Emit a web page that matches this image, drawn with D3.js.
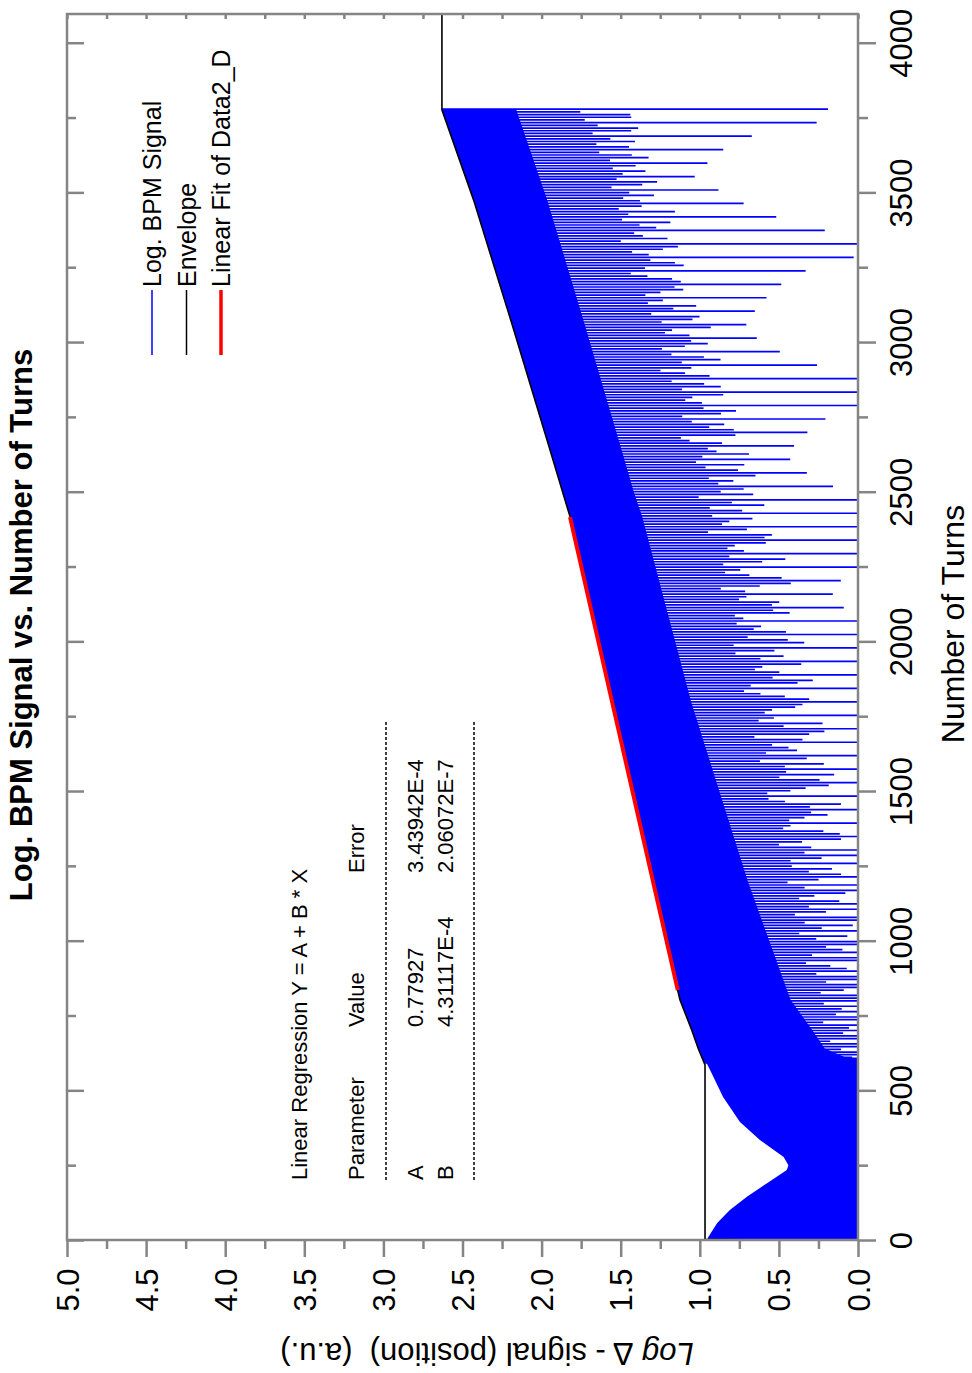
<!DOCTYPE html>
<html>
<head>
<meta charset="utf-8">
<script src="https://cdn.jsdelivr.net/npm/d3@7"></script>
<style>
body { margin: 0; background: #fff; }
text { font-family: "Liberation Sans", Arial, Helvetica, sans-serif; fill: #000; }
</style>
</head>
<body>
<svg width="972" height="1373"></svg>
<script>
// ---- data ----
var turnTicks = [0, 500, 1000, 1500, 2000, 2500, 3000, 3500, 4000];
var turnMinor = [250, 750, 1250, 1750, 2250, 2750, 3250, 3750];
var valueTicks = [0, 0.5, 1, 1.5, 2, 2.5, 3, 3.5, 4, 4.5, 5];
var valueMinor = [0.25, 0.75, 1.25, 1.75, 2.25, 2.75, 3.25, 3.75, 4.25, 4.75];

// envelope (black line)
var envTurns  = [0, 2, 585, 640, 700, 802, 835, 1600, 2416, 2640, 3048, 3475, 3776, 4096];
var envValues = [0.59, 0.967, 0.967, 1.01, 1.05, 1.125, 1.14, 1.47, 1.82, 1.947, 2.18, 2.43, 2.63, 2.63];

// upper edge of the signal in the first ~600 turns (the dip)
var humpTurns  = [0, 7, 57, 100, 145, 190, 234, 250, 277, 334, 394, 478, 568, 610];
var humpValues = [0.95, 0.95, 0.89, 0.81, 0.70, 0.575, 0.45, 0.44, 0.47, 0.62, 0.746, 0.853, 0.935, 0.975];

// width of the solid blue band below the envelope
var solidTurns = [592, 640, 800, 1200, 1800, 2500, 3778];
var solidDepth = [0.98, 0.80, 0.70, 0.60, 0.50, 0.45, 0.47];

// signal dips: how far each dip reaches below the envelope, one every 9 turns
var spikeStart = 592, spikeStep = 9;
var spikeDepth = [
  1.05,1.20,0.95,1.10,2.20, 0.90,1.25,1.10,0.85,1.90, 1.15,0.95,1.30,1.00,1.70,
  0.85,1.10,1.20,0.95,1.60, 1.00,1.35,0.90,1.15,1.55, 1.20,0.90,1.05,1.25,1.60,
  0.95,1.15,1.30,0.90,1.70, 1.10,1.00,0.85,1.20,1.80, 0.90,1.30,1.10,1.00,2.00,
  1.25,0.95,1.15,0.85,2.40, 1.00,1.20,0.90,1.30,2.30, 0.85,1.05,1.25,0.95,2.00,
  1.15,0.90,1.00,1.20,1.75, 0.95,1.30,0.85,1.05,1.60, 1.20,1.00,1.15,0.90,1.55,
  0.90,1.10,1.35,1.00,1.60, 1.05,0.85,1.00,1.25,1.70, 1.25,1.15,0.90,0.95,1.85,
  0.95,1.05,1.20,1.10,2.10, 1.10,1.30,0.95,0.85,2.50, 0.85,1.00,1.10,1.25,2.30,
  1.20,0.95,1.30,1.00,1.95, 1.00,1.25,0.85,1.15,1.75, 0.90,1.10,1.05,0.95,1.60,
  1.15,0.85,1.20,1.30,1.55, 1.05,1.30,0.90,1.00,1.60, 0.95,1.00,1.15,1.20,1.70,
  1.25,1.10,0.95,0.85,1.85, 0.90,1.20,1.30,1.05,2.10, 1.10,0.95,1.00,1.25,2.50,
  1.00,1.15,0.85,1.10,2.30, 0.85,1.30,1.20,0.95,1.90, 1.20,1.00,1.05,0.90,1.70,
  0.95,0.90,1.25,1.15,1.60, 1.15,1.20,0.95,1.00,1.55, 1.00,0.85,1.10,1.30,1.62,
  1.25,1.05,0.90,1.00,1.75, 0.90,1.15,1.30,0.95,1.90, 1.05,0.95,1.00,1.20,2.20,
  1.20,1.25,0.85,1.10,2.60, 0.95,1.00,1.15,0.90,2.35, 1.10,0.90,1.25,1.05,1.95,
  0.85,1.20,1.00,1.15,1.72, 1.00,1.10,0.95,1.25,1.58, 1.15,0.95,1.20,0.90,1.50,
  0.95,1.25,1.05,1.00,1.55, 1.10,0.90,0.85,1.20,1.66, 1.20,1.05,1.15,0.95,1.80,
  0.90,1.15,1.25,1.05,2.05, 1.05,0.95,1.00,1.20,2.55, 0.95,1.20,1.10,0.90,2.40,
  1.15,1.00,0.85,1.05,1.85, 1.00,1.25,1.15,0.95,1.64, 0.90,1.05,1.20,1.10,1.52,
  1.10,0.95,1.00,1.25,1.48, 0.95,1.15,1.20,0.90,1.56, 1.05,1.20,0.90,1.00,1.66,
  0.90,1.00,1.15,1.10,1.78, 1.15,1.10,0.95,0.85,1.96, 0.95,1.20,1.15,1.00,2.29,
  1.00,0.90,1.10,1.20,2.60, 0.85,1.15,1.00,0.95,2.16, 1.10,1.00,1.20,0.90,1.88,
  0.95,1.25,0.90,1.05,1.70, 1.05,0.95,1.15,1.00,1.57, 0.90,1.10,1.20,0.95,1.45,
  1.00,1.15,0.95,1.10,1.56, 0.95,1.20,1.10,0.90,1.69, 1.10,0.90,1.15,1.00,1.90,
  0.90,1.15,1.20,0.95,2.34, 0.88,1.18,1.18,0.87,2.44
];

// linear regression
var fitA = 0.77927, fitB = 4.31117E-4;
var fitTurns = [835, 2415];

var legendNames = ['Log. BPM Signal', 'Envelope', 'Linear Fit of Data2_D'];
var legendColors = ['#0000ff', '#000000', '#ff0000'];
var legendWidths = [1.5, 1.5, 3.5];

var tableHeader = ['Parameter', 'Value', 'Error'];
var tableRows = [['A', '0.77927', '3.43942E-4'], ['B', '4.31117E-4', '2.06072E-7']];

// ---- drawing (chart is turned on its side) ----
var svg = d3.select('svg');
var axisColor = '#858585';

var x = d3.scaleLinear().domain([0, 5]).range([858, 67]);      // log signal -> across
var y = d3.scaleLinear().domain([0, 4096]).range([1240, 14]);  // turns -> up

var envAt = d3.scaleLinear().domain(envTurns).range(envValues);
var solidAt = d3.scaleLinear().domain(solidTurns).range(solidDepth).clamp(true);

var plot = svg.append('g');

// first turns: solid down to zero
var hump = humpTurns.map(function(t, i) { return [t, humpValues[i]]; });
plot.append('path')
  .datum(hump)
  .attr('fill', '#0000ff')
  .attr('d', d3.area().y(function(d) { return y(d[0]); })
    .x0(x(0)).x1(function(d) { return x(d[1]); }));

// solid band under the envelope
var last = spikeStart + spikeStep * (spikeDepth.length - 1);
var bandTurns = [spikeStart].concat(
  envTurns.concat(solidTurns).filter(function(t) { return t > spikeStart && t < last; }).sort(d3.ascending),
  [last]);
plot.append('path')
  .datum(bandTurns)
  .attr('fill', '#0000ff')
  .attr('d', d3.area().y(function(t) { return y(t); })
    .x0(function(t) { return x(Math.max(0, envAt(t) - solidAt(t))); })
    .x1(function(t) { return x(envAt(t)); }));

// dips
var spikes = spikeDepth.map(function(dep, i) {
  var t = spikeStart + i * spikeStep;
  var hi = envAt(t);
  return { t: t, hi: hi, lo: Math.max(0, hi - dep) };
});
plot.selectAll('line.spike')
  .data(spikes)
  .enter().append('line')
  .attr('class', 'spike')
  .attr('stroke', '#0000ff')
  .attr('stroke-width', 1.7)
  .attr('x1', function(d) { return x(d.hi); })
  .attr('x2', function(d) { return x(d.lo); })
  .attr('y1', function(d) { return y(d.t); })
  .attr('y2', function(d) { return y(d.t); });

// envelope
var env = envTurns.map(function(t, i) { return [t, envValues[i]]; });
plot.append('path')
  .datum(env)
  .attr('fill', 'none')
  .attr('stroke', '#000')
  .attr('stroke-width', 1.6)
  .attr('d', d3.line().x(function(d) { return x(d[1]); }).y(function(d) { return y(d[0]); }));

// linear fit
plot.append('path')
  .datum(fitTurns)
  .attr('fill', 'none')
  .attr('stroke', '#ff0000')
  .attr('stroke-width', 4)
  .attr('d', d3.line().x(function(t) { return x(fitA + fitB * t); }).y(function(t) { return y(t); }));

// ---- axes ----
function styleAxis(g) {
  g.select('.domain').remove();
  g.selectAll('.tick line').attr('stroke', axisColor).attr('stroke-width', 2.5);
}

// turns axis on the right
var turnAxis = svg.append('g')
  .attr('transform', 'translate(858,0)')
  .call(d3.axisRight(y).tickValues(turnTicks).tickSize(18).tickFormat(d3.format('d')))
  .call(styleAxis);
turnAxis.selectAll('.tick text')
  .attr('x', 0).attr('dy', 0)
  .attr('text-anchor', 'middle')
  .attr('font-size', 31)
  .attr('transform', 'translate(54,0) rotate(-90)');
svg.append('g')
  .attr('transform', 'translate(858,0)')
  .call(d3.axisRight(y).tickValues(turnMinor).tickSize(10).tickFormat(''))
  .call(styleAxis);

// inward ticks on the opposite side
svg.append('g')
  .attr('transform', 'translate(67,0)')
  .call(d3.axisRight(y).tickValues(turnTicks).tickSize(17).tickFormat(''))
  .call(styleAxis);
svg.append('g')
  .attr('transform', 'translate(67,0)')
  .call(d3.axisRight(y).tickValues(turnMinor).tickSize(9).tickFormat(''))
  .call(styleAxis);

// signal axis at the bottom
var valAxis = svg.append('g')
  .attr('transform', 'translate(0,1240)')
  .call(d3.axisBottom(x).tickValues(valueTicks).tickSize(17).tickFormat(d3.format('.1f')))
  .call(styleAxis);
valAxis.selectAll('.tick text')
  .attr('y', 0).attr('dy', 0)
  .attr('text-anchor', 'middle')
  .attr('font-size', 31)
  .attr('transform', 'translate(11,50) rotate(-90)');
svg.append('g')
  .attr('transform', 'translate(0,1240)')
  .call(d3.axisBottom(x).tickValues(valueMinor).tickSize(9).tickFormat(''))
  .call(styleAxis);
svg.append('g')
  .attr('transform', 'translate(0,14)')
  .call(d3.axisBottom(x).tickValues(valueTicks.concat(valueMinor)).tickSize(5).tickFormat(''))
  .call(styleAxis);

// frame
svg.append('rect')
  .attr('x', x(5)).attr('y', y(4096))
  .attr('width', x(0) - x(5)).attr('height', y(0) - y(4096))
  .attr('fill', 'none').attr('stroke', axisColor).attr('stroke-width', 2.5);

// ---- titles ----
svg.append('text')
  .attr('transform', 'translate(32,625) rotate(-90)')
  .attr('text-anchor', 'middle')
  .attr('font-size', 31).attr('font-weight', 'bold')
  .text('Log. BPM Signal vs. Number of Turns');

svg.append('text')
  .attr('transform', 'translate(964,624) rotate(-90)')
  .attr('text-anchor', 'middle')
  .attr('font-size', 32)
  .text('Number of Turns');

var ylab = svg.append('text')
  .attr('transform', 'translate(487,1343) rotate(180)')
  .attr('text-anchor', 'middle')
  .attr('font-size', 31)
  .style('white-space', 'pre');
ylab.append('tspan').attr('font-style', 'italic').text('Log');
ylab.append('tspan').text(' \u0394 - signal (position)  (a.u.)');

// ---- legend ----
var leg = svg.append('g').selectAll('g')
  .data(legendNames)
  .enter().append('g')
  .attr('transform', function(d, i) { return 'translate(' + (152 + 34.5 * i) + ',0)'; });
leg.append('line')
  .attr('x1', 0).attr('x2', 0).attr('y1', 290).attr('y2', 355)
  .attr('stroke', function(d, i) { return legendColors[i]; })
  .attr('stroke-width', function(d, i) { return legendWidths[i]; });
leg.append('text')
  .attr('transform', 'translate(9,287) rotate(-90)')
  .attr('font-size', 25)
  .text(function(d) { return d; });

// ---- regression table ----
var table = svg.append('g').attr('font-size', 22);
var colStart = [1180, 1027, 873];
table.append('text')
  .attr('transform', 'translate(307,1180) rotate(-90)')
  .text('Linear Regression Y = A + B * X');
tableHeader.forEach(function(h, j) {
  table.append('text')
    .attr('transform', 'translate(364,' + colStart[j] + ') rotate(-90)')
    .text(h);
});
[386, 474].forEach(function(lx) {
  table.append('line')
    .attr('x1', lx).attr('x2', lx).attr('y1', 722).attr('y2', 1180)
    .attr('stroke', '#000').attr('stroke-width', 1.5).attr('stroke-dasharray', '3,2');
});
tableRows.forEach(function(r, i) {
  r.forEach(function(c, j) {
    table.append('text')
      .attr('transform', 'translate(' + (423 + 30 * i) + ',' + colStart[j] + ') rotate(-90)')
      .text(c);
  });
});
</script>
</body>
</html>
